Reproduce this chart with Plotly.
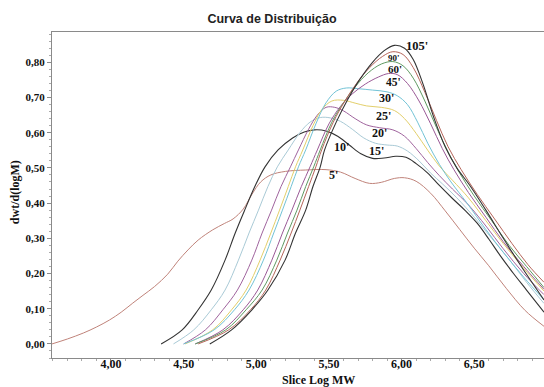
import plotly.graph_objects as go

# ---- data (Slice Log MW, dwt/d(logM)) ----
x_5 = [3.594, 3.70, 3.81, 3.90, 3.99, 4.07, 4.15, 4.22, 4.30, 4.39, 4.46, 4.53, 4.60, 4.70, 4.78, 4.84, 4.91, 4.97, 5.03, 5.10, 5.20, 5.34, 5.48, 5.58, 5.68, 5.78, 5.86, 5.95, 6.02, 6.10, 6.20, 6.30, 6.40, 6.50, 6.60, 6.72, 6.85, 6.98]
y_5 = [0.0, 0.014, 0.031, 0.048, 0.068, 0.09, 0.116, 0.138, 0.163, 0.198, 0.235, 0.267, 0.295, 0.324, 0.342, 0.355, 0.383, 0.425, 0.46, 0.48, 0.49, 0.494, 0.495, 0.488, 0.47, 0.456, 0.459, 0.47, 0.472, 0.462, 0.428, 0.378, 0.325, 0.272, 0.222, 0.158, 0.095, 0.05]

x_10 = [4.345, 4.49, 4.60, 4.69, 4.785, 4.855, 4.92, 4.99, 5.06, 5.15, 5.25, 5.33, 5.40, 5.48, 5.56, 5.64, 5.72, 5.80, 5.88, 5.96, 6.03, 6.10, 6.18, 6.26, 6.35, 6.44, 6.52, 6.60, 6.68, 6.77, 6.86, 6.98]
y_10 = [0.0, 0.04, 0.097, 0.153, 0.238, 0.315, 0.38, 0.447, 0.503, 0.551, 0.585, 0.602, 0.608, 0.605, 0.59, 0.565, 0.54, 0.527, 0.528, 0.533, 0.53, 0.512, 0.485, 0.45, 0.413, 0.378, 0.343, 0.298, 0.25, 0.2, 0.153, 0.09]

x_15 = [4.43, 4.57, 4.69, 4.785, 4.877, 4.95, 5.015, 5.08, 5.145, 5.22, 5.30, 5.37, 5.44, 5.51, 5.58, 5.66, 5.74, 5.82, 5.90, 5.97, 6.04, 6.12, 6.20, 6.28, 6.38, 6.50, 6.62, 6.74, 6.86, 6.98]
y_15 = [0.0, 0.04, 0.097, 0.153, 0.238, 0.315, 0.38, 0.447, 0.503, 0.551, 0.60, 0.63, 0.643, 0.642, 0.632, 0.61, 0.585, 0.57, 0.565, 0.562, 0.548, 0.52, 0.485, 0.455, 0.415, 0.36, 0.30, 0.24, 0.175, 0.115]

x_20 = [4.50, 4.65, 4.77, 4.87, 4.969, 5.04, 5.105, 5.17, 5.235, 5.29, 5.36, 5.42, 5.48, 5.54, 5.60, 5.68, 5.76, 5.85, 5.94, 6.02, 6.10, 6.18, 6.26, 6.35, 6.46, 6.58, 6.70, 6.84, 6.98]
y_20 = [0.0, 0.04, 0.097, 0.153, 0.238, 0.315, 0.38, 0.447, 0.503, 0.551, 0.61, 0.65, 0.672, 0.672, 0.662, 0.64, 0.622, 0.614, 0.608, 0.59, 0.555, 0.515, 0.478, 0.44, 0.395, 0.335, 0.27, 0.20, 0.14]

x_25 = [4.51, 4.70, 4.83, 4.93, 5.026, 5.10, 5.16, 5.22, 5.27, 5.32, 5.39, 5.45, 5.52, 5.60, 5.68, 5.76, 5.86, 5.95, 6.02, 6.10, 6.18, 6.26, 6.35, 6.46, 6.58, 6.70, 6.84, 6.98]
y_25 = [0.0, 0.04, 0.097, 0.153, 0.238, 0.315, 0.38, 0.447, 0.503, 0.551, 0.62, 0.665, 0.69, 0.692, 0.684, 0.676, 0.672, 0.663, 0.64, 0.598, 0.55, 0.505, 0.465, 0.415, 0.35, 0.285, 0.215, 0.15]

x_30 = [4.50, 4.71, 4.85, 4.95, 5.049, 5.12, 5.18, 5.24, 5.29, 5.34, 5.41, 5.48, 5.55, 5.62, 5.70, 5.80, 5.90, 5.97, 6.04, 6.11, 6.18, 6.26, 6.34, 6.45, 6.58, 6.70, 6.84, 6.98]
y_30 = [0.0, 0.04, 0.097, 0.153, 0.238, 0.315, 0.38, 0.447, 0.503, 0.551, 0.625, 0.685, 0.718, 0.727, 0.725, 0.721, 0.716, 0.705, 0.68, 0.63, 0.57, 0.51, 0.46, 0.40, 0.325, 0.26, 0.19, 0.125]

x_45 = [4.58, 4.77, 4.91, 5.01, 5.107, 5.18, 5.245, 5.31, 5.37, 5.42, 5.50, 5.58, 5.66, 5.75, 5.84, 5.91, 5.97, 6.04, 6.12, 6.20, 6.28, 6.36, 6.46, 6.58, 6.70, 6.84, 6.98]
y_45 = [0.0, 0.04, 0.097, 0.153, 0.238, 0.315, 0.38, 0.447, 0.503, 0.551, 0.625, 0.675, 0.71, 0.738, 0.758, 0.768, 0.765, 0.74, 0.69, 0.625, 0.555, 0.495, 0.43, 0.36, 0.29, 0.22, 0.155]

x_60 = [4.58, 4.79, 4.93, 5.04, 5.141, 5.215, 5.28, 5.34, 5.395, 5.44, 5.52, 5.60, 5.68, 5.77, 5.86, 5.94, 6.01, 6.08, 6.16, 6.24, 6.32, 6.40, 6.50, 6.62, 6.74, 6.86, 6.98]
y_60 = [0.0, 0.04, 0.097, 0.153, 0.238, 0.315, 0.38, 0.447, 0.503, 0.551, 0.63, 0.685, 0.73, 0.77, 0.795, 0.802, 0.79, 0.755, 0.69, 0.615, 0.545, 0.485, 0.42, 0.35, 0.28, 0.22, 0.16]

x_90 = [4.60, 4.81, 4.96, 5.065, 5.164, 5.24, 5.30, 5.36, 5.41, 5.45, 5.53, 5.61, 5.69, 5.78, 5.87, 5.94, 6.01, 6.08, 6.16, 6.24, 6.32, 6.41, 6.52, 6.64, 6.76, 6.87, 6.98]
y_90 = [0.0, 0.04, 0.097, 0.153, 0.238, 0.315, 0.38, 0.447, 0.503, 0.551, 0.63, 0.69, 0.74, 0.785, 0.817, 0.83, 0.822, 0.785, 0.715, 0.635, 0.56, 0.495, 0.425, 0.355, 0.285, 0.225, 0.175]

x_105 = [4.68, 4.83, 4.97, 5.08, 5.198, 5.27, 5.34, 5.39, 5.44, 5.47, 5.55, 5.63, 5.71, 5.80, 5.88, 5.95, 6.02, 6.08, 6.15, 6.22, 6.30, 6.38, 6.47, 6.58, 6.70, 6.84, 6.98]
y_105 = [0.0, 0.04, 0.097, 0.153, 0.238, 0.315, 0.38, 0.447, 0.503, 0.551, 0.63, 0.695, 0.75, 0.80, 0.833, 0.848, 0.84, 0.808, 0.735, 0.645, 0.56, 0.50, 0.45, 0.38, 0.30, 0.21, 0.125]

series_names = ["5'", "10'", "15'", "20'", "25'", "30'", "45'", "60'", "90'", "105'"]
series_x = [x_5, x_10, x_15, x_20, x_25, x_30, x_45, x_60, x_90, x_105]
series_y = [y_5, y_10, y_15, y_20, y_25, y_30, y_45, y_60, y_90, y_105]
series_colors = ["#c0837a", "#333333", "#a9cad6", "#a0649e", "#e3cf6a",
                 "#72c3d6", "#9a5996", "#5f9a62", "#b5655a", "#333333"]
series_widths = [1, 1.1, 1, 1, 1, 1, 1, 1, 1, 1.1]

x_ticks = [4.0, 4.5, 5.0, 5.5, 6.0, 6.5]
y_ticks = [0.0, 0.1, 0.2, 0.3, 0.4, 0.5, 0.6, 0.7, 0.8]

# label positions (data coords) and font sizes
label_pos = {
    "105'": (6.107, 0.847, 12.5), "90'": (5.949, 0.812, 9), "60'": (5.956, 0.781, 11),
    "45'": (5.942, 0.744, 11.5), "30'": (5.894, 0.699, 12), "25'": (5.873, 0.648, 12),
    "20'": (5.846, 0.599, 12), "15'": (5.825, 0.548, 12), "10'": (5.584, 0.560, 12),
    "5'": (5.529, 0.480, 12),
}

serif = "Liberation Serif"

fig = go.Figure()
for name, xs, ys, c, w in zip(series_names, series_x, series_y, series_colors, series_widths):
    fig.add_trace(go.Scatter(x=xs, y=ys, mode="lines", name=name,
                             line=dict(color=c, width=w, shape="spline", smoothing=1.0),
                             hoverinfo="x+y+name"))

annotations = []
for name in series_names:
    lx, ly, fs = label_pos[name]
    annotations.append(dict(x=lx, y=ly, xref="x", yref="y", text=name, showarrow=False,
                            font=dict(family=serif, size=fs, color="#111", weight="bold"),
                            xanchor="center", yanchor="middle"))

annotations.append(dict(x=0.541, y=-0.068, xref="paper", yref="paper", text="Slice Log MW",
                        showarrow=False, xanchor="center", yanchor="middle",
                        font=dict(family=serif, size=12, color="#111", weight="bold")))
annotations.append(dict(x=-0.075, y=0.509, xref="paper", yref="paper", text="dwt/d(logM)",
                        showarrow=False, xanchor="center", yanchor="middle", textangle=-90,
                        font=dict(family=serif, size=12, color="#111", weight="bold")))

fig.update_layout(
    width=544, height=387,
    margin=dict(l=52, r=0, t=32, b=29),
    paper_bgcolor="white", plot_bgcolor="white",
    showlegend=False,
    separators=",.",
    title=dict(text="Curva de Distribuição", x=0.5, xref="container", y=1 - 19 / 387, yref="container",
               xanchor="center", yanchor="middle",
               font=dict(family="Liberation Sans", size=12.5, color="#222", weight="bold")),
    annotations=annotations,
    xaxis=dict(range=[3.594, 6.98], tickvals=x_ticks, tickformat=".2f",
               showgrid=False, zeroline=False, showline=True, linecolor="#8a8a8a", linewidth=1,
               mirror=True, ticks="outside", ticklen=3, tickcolor="#8a8a8a",
               ticklabelstandoff=-8,
               minor=dict(dtick=0.1, ticks="outside", ticklen=2, tickcolor="#aaa"),
               tickfont=dict(family=serif, size=12, color="#111", weight="bold")),
    yaxis=dict(range=[-0.04, 0.886], tickvals=y_ticks, tickformat=".2f",
               showgrid=False, zeroline=False, showline=True, linecolor="#8a8a8a", linewidth=1,
               ticks="outside", ticklen=4, tickcolor="#8a8a8a",
               minor=dict(dtick=0.02, ticks="outside", ticklen=2, tickcolor="#aaa"),
               tickfont=dict(family=serif, size=11, color="#111", weight="bold")),
)

fig.write_html("out.html", config={"displayModeBar": False},
               post_script="document.body.style.margin='0px';")
